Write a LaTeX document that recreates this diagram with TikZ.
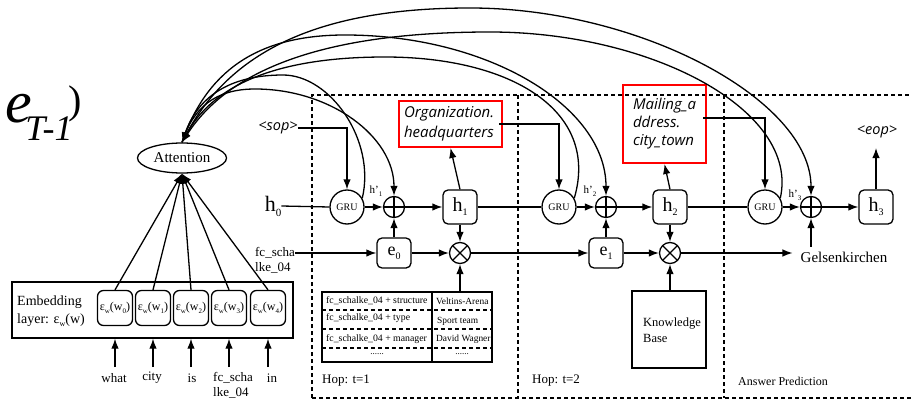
\documentclass[tikz,border=0pt]{standalone}
\usepackage{fontspec}
\setmainfont{Liberation Serif}
\newfontfamily\osans{Open Sans}
\usetikzlibrary{arrows.meta,shapes.geometric}
\newcommand\fsz[2]{\fontsize{#1}{#2}\selectfont}
\newcommand\sbx[3]{\raisebox{-#2pt}{\fsz{#1}{#1}#3}}
\begin{document}
\begin{tikzpicture}[x=1pt,y=-1pt,
  ln/.style={line width=1.3pt},
  arr/.style={ln,-{Latex[length=10pt,width=7.5pt]}},
  rbox/.style={draw,ln,rounded corners=5pt,minimum width=34pt,minimum height=34pt,inner sep=0pt},
  ebox/.style={rbox,minimum height=30pt},
  wbox/.style={draw,ln,rounded corners=6pt,minimum width=35pt,minimum height=35pt,inner sep=0pt,font=\fsz{12}{14}},
  gru/.style={circle,draw,ln,minimum size=34pt,inner sep=0pt,font=\fsz{10}{12}},
  opl/.style={circle,draw,ln,minimum size=21pt,inner sep=0pt,
    path picture={\draw[ln] (path picture bounding box.north)--(path picture bounding box.south)
      (path picture bounding box.west)--(path picture bounding box.east);}},
  otm/.style={circle,draw,ln,minimum size=21pt,inner sep=0pt,
    path picture={\draw[ln] (path picture bounding box.north west)--(path picture bounding box.south east)
      (path picture bounding box.north east)--(path picture bounding box.south west);}},
  redbox/.style={draw=red,line width=2pt,inner ysep=0pt,align=left,font=\osans\itshape\fsz{15}{20}},
  hopline/.style={line width=1.2pt,dash pattern=on 4pt off 3pt},
  tline/.style={line width=1.1pt,dash pattern=on 4pt off 3pt},
  lab/.style={inner sep=0pt}
]
\useasboundingbox (0,0) rectangle (912,401);

% stray title fragment
\node[lab,font=\itshape\fsz{60}{60}] (te) at (19,109) {e};
\node[lab,font=\itshape\fsz{36}{36}] (tt) at (49,129) {T-1};
\node[lab,font=\fsz{40}{40}] (tp) at (75,104) {)};

% hop regions
\draw[hopline] (312,398) -- (312,95) -- (912,95);
\draw[hopline] (312,398) -- (912,398);
\draw[hopline] (518,95) -- (518,398);
\draw[hopline] (724,95) -- (724,398);

% attention
\node[ellipse,draw,ln,minimum width=89pt,minimum height=30pt,inner sep=0pt,font=\fsz{15}{18}] (att) at (182,158) {Attention};

% embedding layer
\node[draw,ln,minimum width=281pt,minimum height=56pt,inner sep=0pt] (emb) at (152.5,310) {};
\node[lab,align=left,anchor=west,font=\fsz{14}{18}] (embt) at (17,311) {Embedding\\layer: ε\sbx{8}{3}{w}(w)};
\node[wbox] (ew0) at (115,308) {ε\sbx{7}{3}{w}(w\sbx{7}{3}{0})};
\node[wbox] (ew1) at (153,308) {ε\sbx{7}{3}{w}(w\sbx{7}{3}{1})};
\node[wbox] (ew2) at (191,308) {ε\sbx{7}{3}{w}(w\sbx{7}{3}{2})};
\node[wbox] (ew3) at (229,308) {ε\sbx{7}{3}{w}(w\sbx{7}{3}{3})};
\node[wbox] (ew4) at (268,308) {ε\sbx{7}{3}{w}(w\sbx{7}{3}{4})};
\foreach \i in {0,...,4}{\draw[arr] (ew\i.north) -- (att.south);}

\node[lab,font=\fsz{13}{15}] (w0) at (114,378) {what};
\node[lab,font=\fsz{13}{15}] (w1) at (152,378) {city};
\node[lab,font=\fsz{13}{15}] (w2) at (192,378) {is};
\node[lab,font=\fsz{13}{15},align=left,anchor=north west] (w3) at (213,372) {fc\_scha\\lke\_04};
\node[lab,font=\fsz{13}{15}] (w4) at (272,378) {in};
\foreach \i in {0,...,4}{\draw[arr] (ew\i |- 0,367) coordinate (s\i) -- (s\i |- emb.south);}

% hop 1
\node[lab,font=\fsz{22}{26}] (h0) at (273,206) {h\sbx{11}{5}{0}};
\node[lab,font=\osans\itshape\fsz{14.5}{16}] (sop) at (278,128) {<sop>};
\node[gru] (gru1) at (347,207) {GRU};
\node[opl] (op1) at (394,207) {};
\node[rbox,font=\fsz{20}{24}] (h1) at (460,207) {h\sbx{10}{4}{1}};
\node[ebox,font=\fsz{18}{22}] (e0) at (394,253) {e\sbx{10}{4}{0}};
\node[otm] (ot1) at (460,253) {};
\node[redbox,minimum width=103pt,minimum height=46pt,text width=93pt,inner xsep=5pt] (org) at (450.5,124) {Organization.\\headquarters};
\node[lab,font=\fsz{13}{15},align=left] (fc) at (275,260) {fc\_scha\\lke\_04};
\node[lab,font=\fsz{11}{13}] (hp1) at (376,191) {h'\sbx{7}{3}{1}};

\draw[ln] (h0.east) -- (gru1.west);
\draw[arr] (sop.east) -| (gru1.north);
\draw[arr] (gru1.east) -- (op1.west);
\draw[arr] (op1.east) -- (h1.west);
\draw[arr] (e0.north) -- (op1.south);
\draw[arr] (e0.east) -- (ot1.west);
\draw[arr] (h1.south) -- (ot1.north);
\draw[arr] (h1.north) -- (org.south);
\draw[arr] (fc.east |- e0.west) -- (e0.west);

% table
\node[draw,line width=1.1pt,minimum width=170pt,minimum height=70pt,inner sep=0pt] (tab) at (407,327) {};
\draw[line width=1.1pt] (432,292) -- (432,362);
\draw[tline] (322,310) -- (492,310);
\draw[tline] (322,329) -- (492,329);
\draw[tline] (322,348) -- (492,348);
\begin{scope}[every node/.style={lab,font=\fsz{9.8}{11},anchor=west}]
\node (t1) at (326,301) {fc\_schalke\_04 + structure};
\node (t2) at (326,318) {fc\_schalke\_04 + type};
\node (t3) at (326,339) {fc\_schalke\_04 + manager};
\end{scope}
\begin{scope}[every node/.style={lab,font=\fsz{9.4}{11},anchor=west}]
\node (r1) at (436,301) {Veltins-Arena};
\node (r2) at (437,321) {Sport team};
\node (r3) at (436,339) {David Wagner};
\end{scope}
\node[lab,font=\fsz{9}{11}] (t4) at (377,354) {......};
\node[lab,font=\fsz{9}{11}] (r4) at (462,354) {......};
\draw[arr] (ot1 |- tab.north) -- (ot1.south);

% hop 2
\node[gru] (gru2) at (559,207) {GRU};
\node[opl] (op2) at (606,207) {};
\node[rbox,font=\fsz{20}{24}] (h2) at (670,207) {h\sbx{10}{4}{2}};
\node[ebox,font=\fsz{18}{22}] (e1) at (606,253) {e\sbx{10}{4}{1}};
\node[otm] (ot2) at (670,253) {};
\node[redbox,minimum width=83pt,minimum height=78pt,text width=63pt,inner xsep=10pt,font=\osans\itshape\fsz{15}{18}] (mail) at (664.5,124) {Mailing\_a\\ddress.\\city\_town};
\node[lab,font=\fsz{11}{13}] (hp2) at (590,191) {h'\sbx{7}{3}{2}};
\node[draw,ln,minimum width=74pt,minimum height=77pt,inner sep=0pt] (kb) at (669,329.5) {};
\node[lab,font=\fsz{12.5}{16},align=left,anchor=west] (kbt) at (643,330) {Knowledge\\Base};

\draw[ln] (h1.east) -- (gru2.west);
\draw[arr] ([xshift=-4pt]org.east) -| (gru2.north);
\draw[arr] (ot1.east) -- (e1.west);
\draw[arr] (gru2.east) -- (op2.west);
\draw[arr] (op2.east) -- (h2.west);
\draw[arr] (e1.north) -- (op2.south);
\draw[arr] (e1.east) -- (ot2.west);
\draw[arr] (h2.south) -- (ot2.north);
\draw[arr] (h2.north) -- (mail.south);
\draw[arr] (ot2 |- kb.north) -- (ot2.south);

% answer prediction
\node[gru] (gru3) at (765,207) {GRU};
\node[opl] (op3) at (811,207) {};
\node[rbox,font=\fsz{20}{24}] (h3) at (876,207) {h\sbx{10}{4}{3}};
\node[lab,font=\fsz{15}{18}] (gel) at (844,257) {Gelsenkirchen};
\node[lab,font=\osans\itshape\fsz{14.5}{16}] (eop) at (877,132) {<eop>};
\coordinate (eopin) at (876,148);
\node[lab,font=\fsz{11}{13}] (hp3) at (795,195) {h'\sbx{7}{3}{3}};

\draw[ln] (h2.east) -- (gru3.west);
\draw[arr] ([shift={(-4,-6)}]mail.east) -| (gru3.north);
\draw[arr] (gru3.east) -- (op3.west);
\draw[arr] (op3.east) -- (h3.west);
\draw[arr] (ot2.east) -- ([xshift=-8pt]gel.west |- ot2.east);
\draw[arr] ([yshift=5pt]gel.north -| op3) -- (op3.south);
\draw[arr] (h3.north) -- (eopin);

% labels at bottom
\node[lab,font=\fsz{13}{15},anchor=west] (hop1) at (322,381) {Hop: t=1};
\node[lab,font=\fsz{13}{15},anchor=west] (hop2) at (532,381) {Hop: t=2};
\node[lab,font=\fsz{12}{14},anchor=west] (ansp) at (738,381) {Answer Prediction};

% attention arcs
\draw[arr] (gru1.30) .. controls (376,140) and (330,75) .. (283,75) .. controls (227,75) and (197,99) .. (att.north);
\draw[arr] (att.north) .. controls (193,108) and (215,89) .. (255,89) .. controls (331,89) and (394,137) .. (op1.north);
\draw[arr] (gru2.30) .. controls (600,110) and (510,57) .. (385,57) .. controls (273,57) and (212,87) .. (att.north);
\draw[arr] (att.north) .. controls (206,73) and (255,35) .. (345,35) .. controls (489,35) and (606,107) .. (op2.north);
\draw[arr] (gru3.30) .. controls (800,110) and (651,32) .. (490,32) .. controls (321,32) and (228,71) .. (att.north);
\draw[arr] (att.north) .. controls (225,55) and (312,8) .. (470,8) .. controls (640,8) and (811,100) .. (op3.north);
\end{tikzpicture}
\end{document}
